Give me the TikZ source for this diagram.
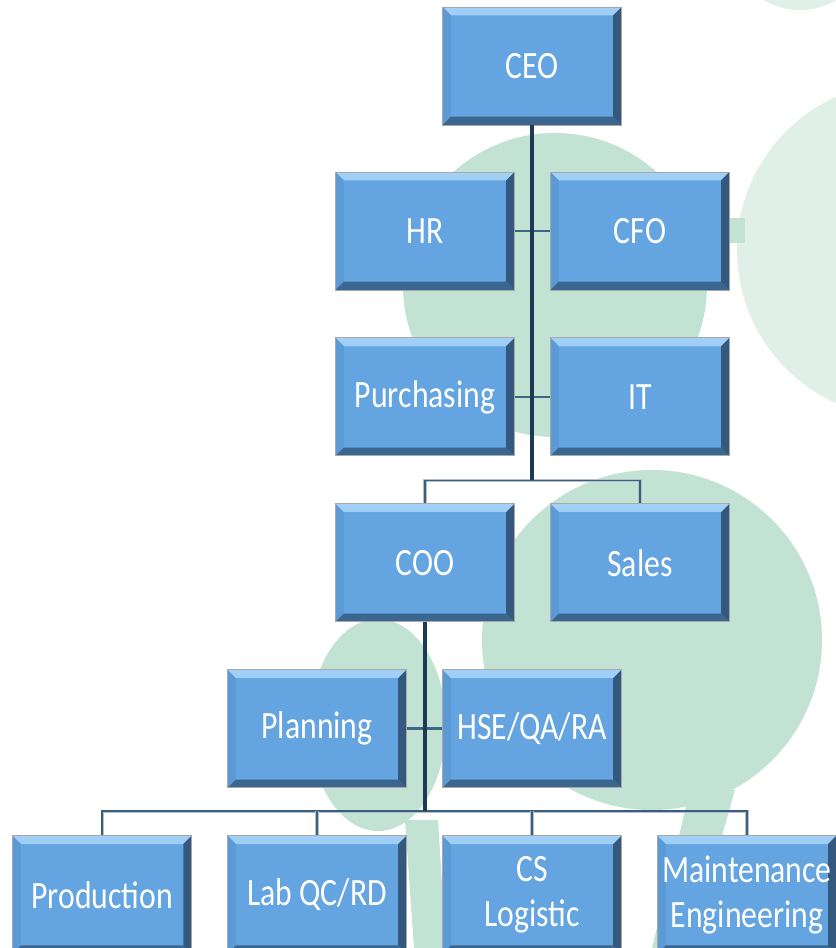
\documentclass[tikz,border=0pt]{standalone}
\usepackage{fontspec}
\setmainfont{Carlito}[FakeStretch=0.82]
\usepackage{tikz}
\usetikzlibrary{positioning,calc}
\definecolor{boxface}{HTML}{64A4E0}
\definecolor{boxedge}{HTML}{A8A8A8}
\definecolor{bevhi}{HTML}{A2D0F7}
\definecolor{bevlo}{HTML}{6EAFE9}
\definecolor{bevleft}{HTML}{5C9AD6}
\definecolor{bevright}{HTML}{34597D}
\definecolor{bevbot}{HTML}{3A6690}
\definecolor{trunkcol}{HTML}{1E3953}
\definecolor{stubcol}{HTML}{3F6686}
\definecolor{buscol}{HTML}{3A5E7E}
\definecolor{busrim}{HTML}{B4C0CC}
\definecolor{leaf}{HTML}{C2E3D4}
\definecolor{leaflight}{HTML}{E0EFE7}
\newcommand{\bev}{0.25cm}
\newcommand{\ppb}{path picture bounding box}
\tikzset{
  unit/.style={draw=boxedge, line width=0.8pt, fill=boxface, text=white, align=center,
    minimum width=5.37cm, minimum height=3.54cm, inner sep=0pt,
    font=\fontsize{33}{38.5}\selectfont,
    path picture={
      \shade[top color=bevhi, bottom color=bevlo] (\ppb.north west) -- (\ppb.north east)
        -- ([xshift=-\bev,yshift=-\bev]\ppb.north east) -- ([xshift=\bev,yshift=-\bev]\ppb.north west) -- cycle;
      \fill[bevleft] (\ppb.north west) -- ([xshift=\bev,yshift=-\bev]\ppb.north west)
        -- ([xshift=\bev,yshift=\bev]\ppb.south west) -- (\ppb.south west) -- cycle;
      \fill[bevright] (\ppb.north east) -- ([xshift=-\bev,yshift=-\bev]\ppb.north east)
        -- ([xshift=-\bev,yshift=\bev]\ppb.south east) -- (\ppb.south east) -- cycle;
      \fill[bevbot] (\ppb.south west) -- ([xshift=\bev,yshift=\bev]\ppb.south west)
        -- ([xshift=-\bev,yshift=\bev]\ppb.south east) -- (\ppb.south east) -- cycle;
    }},
  trunk/.style={draw=trunkcol, line width=2.6pt},
  stub/.style={draw=stubcol, line width=2.4pt},
  bus/.style={draw=busrim, double=buscol, double distance=1.5pt, line width=0.6pt},
  blob/.style={fill=leaf},
}

\begin{document}
\begin{tikzpicture}[x=0.03cm, y=-0.03cm, node distance=1.41cm and 1.05cm]
\useasboundingbox[fill=white] (0,0) rectangle (835,948);

% logo in the background
\fill[leaflight] (905,250) circle (168);
\fill[leaflight] (800,-62) circle (72);
\fill[blob] (728,218) rectangle (745,243);
\fill[blob] (555,285) circle (152);
\fill[blob] (652,640) circle (170);
\fill[blob] (378,725) ellipse [x radius=68, y radius=106];
\fill[blob] (405,820) -- (438,820) -- (446,948) -- (414,948) -- cycle;
\fill[blob] (690,790) -- (735,790) -- (690,948) -- (652,948) -- cycle;

% boxes
\node[unit] (ceo) at (532,66) {CEO};
\node[unit] (hr) at (425,231) {HR};
\node[unit, right=of hr] (cfo) {CFO};
\node[unit, below=of hr] (pur) {Purchasing};
\node[unit, right=of pur] (it) {IT};
\node[unit, below=of pur] (coo) {COO};
\node[unit, right=of coo] (sales) {Sales};
\node[unit, below=of coo, xshift=3.21cm] (hse) {HSE/QA/RA};
\node[unit, left=of hse] (plan) {Planning};
\node[unit, below=of plan] (lab) {Lab QC/RD};
\node[unit, left=of lab] (prod) {Production};
\node[unit, right=of lab] (cs) {CS\\Logistic};
\node[unit, right=of cs] (mnt) {Maintenance\\Engineering};

% junctions
\coordinate (j1) at ([yshift=0.69cm]ceo.south |- coo.north);
\coordinate (j2) at ([yshift=0.72cm]coo.south |- lab.north);

% connectors
\draw[stub] (hr.east) -- (cfo.west);
\draw[stub] (pur.east) -- (it.west);
\draw[stub] (plan.east) -- (hse.west);
\draw[bus] (coo.north) |- (j1) -| (sales.north);
\draw[bus] (prod.north) |- (j2) -| (mnt.north);
\draw[bus] (lab.north) -- (lab.north |- j2);
\draw[bus] (cs.north) -- (cs.north |- j2);
\draw[trunk] (ceo.south) -- (j1);
\draw[trunk] (coo.south) -- (j2);
\end{tikzpicture}
\end{document}
